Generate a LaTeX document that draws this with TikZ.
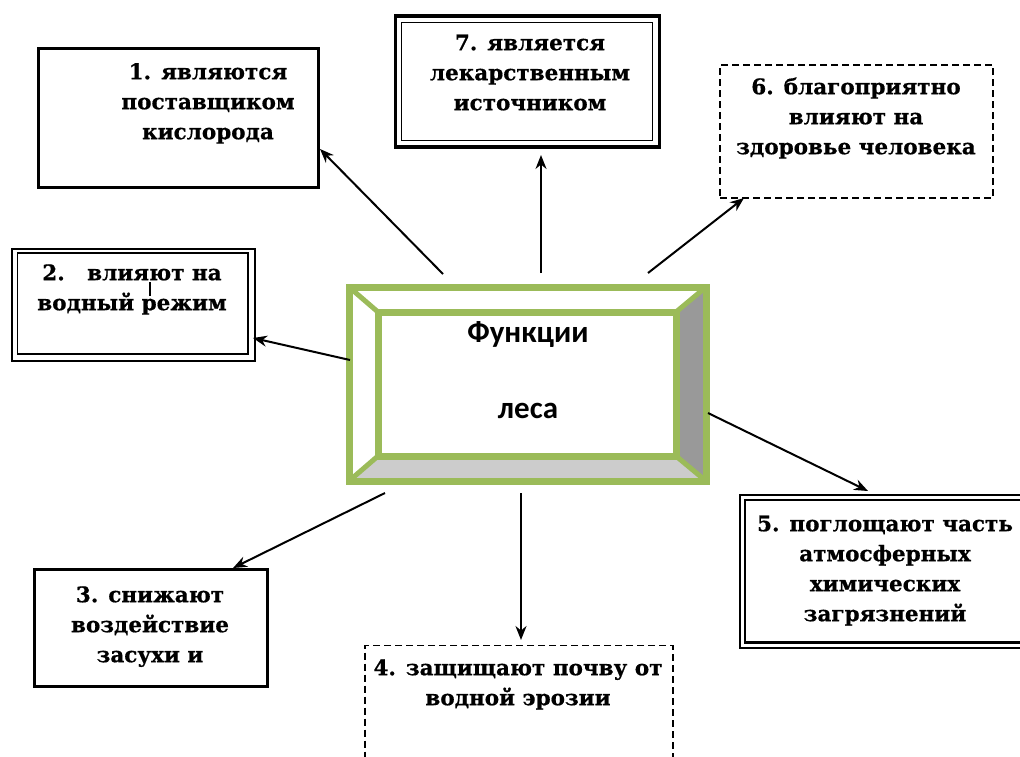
\documentclass[tikz,border=0pt]{standalone}
\usepackage{fontspec}
\newfontfamily\boxfont{DejaVu Serif}[UprightFont=* Bold, FakeBold=0.6]
\newfontfamily\sansfontb{Carlito}
\usetikzlibrary{arrows.meta}
\definecolor{leaf}{HTML}{9BBB59}
\definecolor{bevdark}{HTML}{999999}
\definecolor{bevlight}{HTML}{CCCCCC}
\newcommand\myts{\rule{0pt}{17pt}}
\tikzset{
  txt/.style={font=\boxfont\fontsize{21.5}{30}\selectfont, align=center, inner sep=0pt, anchor=north},
  frame/.style={draw, inner sep=0pt, outer sep=0pt},
  thickframe/.style={frame, line width=3pt},
  thinframe/.style={frame, line width=1.6pt},
  dashframe/.style={frame, line width=1.8pt, dash pattern=on 7pt off 4pt},
  arr/.style={line width=2pt, -{Stealth[length=14pt,width=11pt]}},
  ctr/.style={font=\sansfontb\bfseries\fontsize{31}{34}\selectfont, inner sep=0pt, anchor=base}
}
\begin{document}
\begin{tikzpicture}[x=1pt,y=-1pt]
\useasboundingbox (0,0) rectangle (1020,756);
\clip (0,0) rectangle (1020,756);
\fill[white] (0,0) rectangle (1020,756);

% central bevelled box
\fill[bevdark] (706,287) -- (706,481) -- (676,456) -- (676,312) -- cycle;
\fill[bevlight] (349,481) -- (706,481) -- (676,456) -- (378,456) -- cycle;
\node[frame, draw=leaf, line width=7pt, minimum width=357pt, minimum height=194pt] (c) at (527.5,384) {};
\node[frame, draw=leaf, line width=7pt, minimum width=298pt, minimum height=144pt] (ci) at (527,384) {};
\draw[leaf, line width=5pt] (c.north west) -- (ci.north west);
\draw[leaf, line width=5pt] (c.north east) -- (ci.north east);
\draw[leaf, line width=5pt] (c.south west) -- (ci.south west);
\draw[leaf, line width=5pt] (c.south east) -- (ci.south east);
\node[ctr] (ct1) at (528,342) {Функции};
\node[ctr] (ct2) at (528,418) {леса};

% box 1
\node[thickframe, minimum width=280pt, minimum height=139pt] (b1) at (178,117.5) {};
\node[txt] (t1) at (208,62) {\myts 1. являются\\поставщиком\\кислорода};

% box 7
\node[thickframe, line width=3.5pt, minimum width=264pt, minimum height=131pt] (b7) at (527.5,81.5) {};
\node[thinframe, line width=1.5pt, minimum width=251pt, minimum height=118pt] (b7i) at (527,81.5) {};
\node[txt] (t7) at (530,33) {\myts 7. является\\лекарственным\\источником};

% box 6
\node[dashframe, minimum width=273pt, minimum height=133pt] (b6) at (856.5,131.5) {};
\node[txt] (t6) at (856,77) {\myts 6. благоприятно\\влияют на\\здоровье человека};

% box 2
\node[thinframe, line width=2pt, minimum width=243pt, minimum height=112pt] (b2) at (133.5,304.5) {};
\node[thinframe, minimum width=230.5pt, minimum height=101pt] (b2i) at (132.75,303.5) {};
\node[txt] (t2) at (132,263) {\myts 2.\ \ \ влияют на\\водный режим};
\draw[line width=2.5pt] (150,282) -- (150,296);

% box 3
\node[thickframe, minimum width=233pt, minimum height=117pt] (b3) at (150.5,627.5) {};
\node[txt] (t3) at (150,585) {\myts 3. снижают\\воздействие\\засухи и};

% box 4
\node[dashframe, minimum width=308pt, minimum height=180pt] (b4) at (519,735.5) {};
\node[txt] (t4) at (518,658) {\myts 4. защищают почву от\\водной эрозии};

% box 5
\node[thinframe, line width=1.5pt, minimum width=320pt, minimum height=153pt] (b5) at (900,571.5) {};
\node[thickframe, line width=2.8pt, minimum width=310pt, minimum height=142.5pt] (b5i) at (900,571.25) {};
\node[txt] (t5) at (885,514) {\myts 5. поглощают часть\\атмосферных\\химических\\загрязнений};

% connectors
\coordinate (s1) at (443,274); \coordinate (e1) at (320,149);
\coordinate (s7) at (541,273); \coordinate (e7) at (541,155);
\coordinate (s6) at (648,273); \coordinate (e6) at (744,198);
\coordinate (s2) at (350,360); \coordinate (e2) at (253,338);
\coordinate (s5) at (708,413); \coordinate (e5) at (868,491);
\coordinate (s3) at (385,493); \coordinate (e3) at (233,568);
\coordinate (s4) at (521,493); \coordinate (e4) at (521,640);
\draw[arr] (s1) -- (e1);
\draw[arr] (s7) -- (e7);
\draw[arr] (s6) -- (e6);
\draw[arr] (s2) -- (e2);
\draw[arr] (s5) -- (e5);
\draw[arr] (s3) -- (e3);
\draw[arr] (s4) -- (e4);
\end{tikzpicture}
\end{document}
